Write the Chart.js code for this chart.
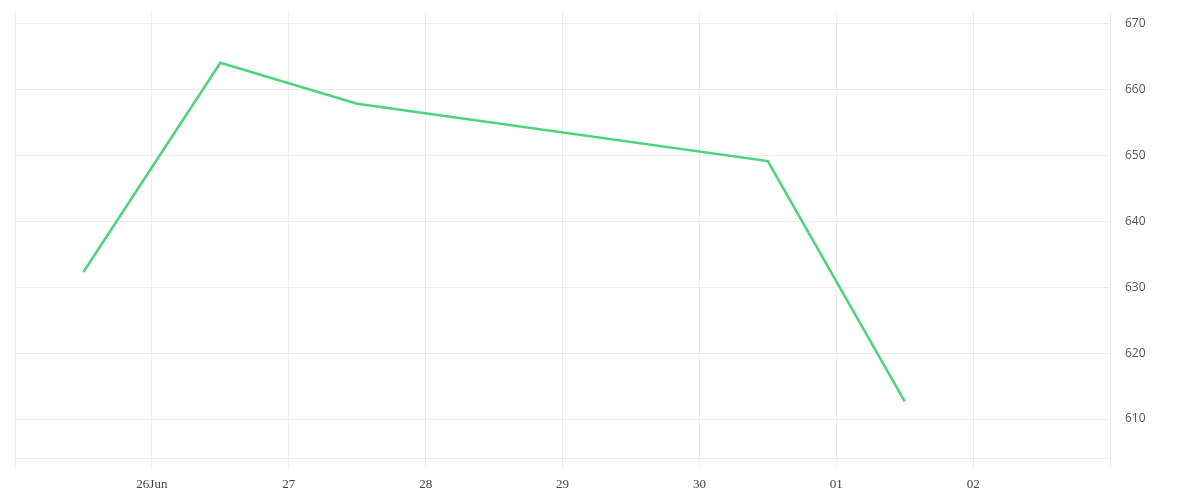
<!DOCTYPE html>
<html>
<head>
<meta charset="utf-8">
<script src="https://cdn.jsdelivr.net/npm/chart.js@4"></script>
<style>
  html, body { margin: 0; padding: 0; background: #fff; }
  #wrap { width: 1200px; height: 500px; }
</style>
</head>
<body>
<div id="wrap"><canvas id="price"></canvas></div>
<script>
// day numbers counted from 1 June (31.5 = 01 Jul noon)
const pointDays = [25.5, 26.5, 27.5, 30.5, 31.5];
const pointValues = [632.3, 664.0, 657.8, 649.1, 612.7];
const tickStart = 25;
const tickLabels = ['', '26Jun', '27', '28', '29', '30', '01', '02', ''];
const yTicksMin = 604.1, yTicksMax = 671.7;

const gridColor = '#ececec';

const ctx = document.getElementById('price').getContext('2d');
new Chart(ctx, {
    type: 'line',
    data: {
        datasets: [{
            data: pointDays.map((d, i) => ({ x: d, y: pointValues[i] })),
            borderColor: '#4cd47b',
            borderWidth: 2.5,
            pointRadius: 0,
            tension: 0,
            fill: false
        }]
    },
    options: {
        responsive: true,
        maintainAspectRatio: false,
        animation: false,
        layout: { padding: { left: 15, top: 12, right: 0, bottom: 0 } },
        plugins: { legend: { display: false }, tooltip: { enabled: false } },
        scales: {
            x: {
                type: 'linear',
                min: tickStart,
                max: tickStart + tickLabels.length - 1,
                grid: { color: gridColor, tickLength: 10, tickColor: gridColor },
                border: { color: gridColor },
                ticks: {
                    stepSize: 1,
                    autoSkip: false,
                    maxRotation: 0,
                    padding: 9,
                    color: '#444',
                    font: { family: 'Liberation Serif', size: 13 },
                    callback: v => tickLabels[Math.round(v - tickStart)]
                },
                afterFit: s => { s.height = 42; s.paddingLeft = 0; s.paddingRight = 0; }
            },
            y: {
                position: 'right',
                min: yTicksMin,
                max: yTicksMax,
                grid: { color: gridColor, drawTicks: false },
                border: { color: gridColor },
                ticks: {
                    stepSize: 10,
                    includeBounds: false,
                    padding: 15,
                    color: '#555',
                    font: { family: 'Open Sans', size: 12 }
                },
                afterFit: s => { s.width = 90; s.paddingTop = 0; s.paddingBottom = 0; }
            }
        }
    }
});
</script>
</body>
</html>
